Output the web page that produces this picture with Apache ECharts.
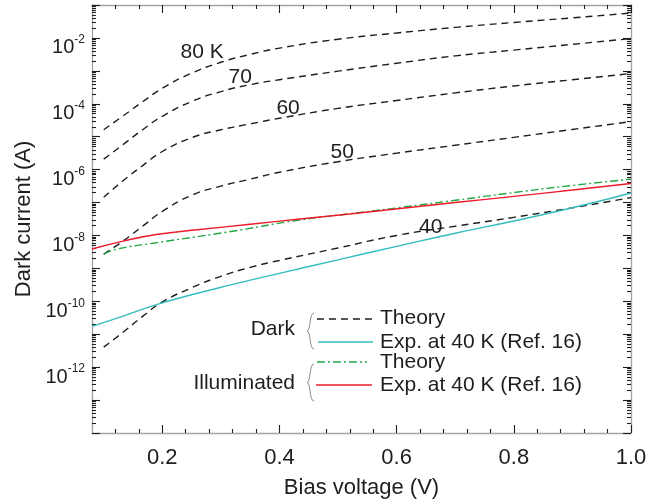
<!DOCTYPE html>
<html>
<head>
<meta charset="utf-8">
<script src="https://cdn.jsdelivr.net/npm/echarts@6/dist/echarts.min.js"></script>
<style>
  html, body { margin: 0; padding: 0; background: #ffffff; }
  #chart { width: 664px; height: 504px; }
</style>
</head>
<body>
<div id="chart"></div>
<script>
// Bias voltage (V) sample points for the theoretical dark-current curves
const xTheory = [0.10, 0.133, 0.167, 0.20, 0.25, 0.30, 0.35, 0.40, 0.50, 0.60, 0.70, 0.80, 0.90, 1.00];

// Theoretical dark current (A) at each temperature
const dark80K = [1.62e-5, 4.27e-5, 1.17e-4, 2.95e-4, 8.51e-4, 1.82e-3, 3.16e-3, 4.90e-3, 9.12e-3, 1.41e-2, 2.09e-2, 2.95e-2, 4.07e-2, 5.68e-2];
const dark70K = [2.09e-6, 5.75e-6, 1.66e-5, 4.17e-5, 1.17e-4, 2.34e-4, 3.80e-4, 5.37e-4, 9.77e-4, 1.70e-3, 2.85e-3, 4.27e-3, 6.38e-3, 9.55e-3];
const dark60K = [1.45e-7, 4.57e-7, 1.35e-6, 3.55e-6, 9.33e-6, 1.62e-5, 2.45e-5, 3.63e-5, 7.24e-5, 1.26e-4, 2.14e-4, 3.47e-4, 5.37e-4, 8.32e-4];
const dark50K = [2.69e-9, 6.76e-9, 1.95e-8, 5.37e-8, 1.66e-7, 3.16e-7, 5.13e-7, 8.32e-7, 1.74e-6, 3.16e-6, 5.50e-6, 9.55e-6, 1.66e-5, 2.88e-5];
const dark40K = [4.07e-12, 1.15e-11, 3.55e-11, 9.55e-11, 2.57e-10, 5.75e-10, 1.07e-9, 1.74e-9, 4.17e-9, 1.00e-8, 1.91e-8, 3.55e-8, 6.92e-8, 1.41e-7];

// Measured dark current at 40 K (Ref. 16)
const xDarkExp = [0.08, 0.133, 0.19, 0.25, 0.315, 0.40, 0.50, 0.60, 0.70, 0.80, 0.90, 1.00];
const darkExp40K = [1.74e-11, 3.55e-11, 7.94e-11, 1.58e-10, 3.09e-10, 7.08e-10, 1.82e-9, 4.68e-9, 1.17e-8, 2.75e-8, 6.92e-8, 1.95e-7];

// Measured current under illumination at 40 K (Ref. 16)
const xIllumExp = [0.08, 0.133, 0.19, 0.264, 0.35, 0.435, 0.52, 0.606, 0.70, 0.812, 0.90, 1.00];
const illumExp40K = [3.89e-9, 6.76e-9, 1.07e-8, 1.51e-8, 2.19e-8, 3.16e-8, 4.47e-8, 6.61e-8, 1.00e-7, 1.62e-7, 2.40e-7, 3.80e-7];

// Theoretical current under illumination
const xIllumTheory = [0.10, 0.121, 0.19, 0.31, 0.435, 0.52, 0.606, 0.70, 0.812, 0.90, 1.00];
const illumTheory = [2.69e-9, 3.80e-9, 6.03e-9, 1.26e-8, 2.95e-8, 4.57e-8, 7.08e-8, 1.17e-7, 2.14e-7, 3.31e-7, 5.13e-7];

// Axis ticks and labels
const xTickLabels = [0.2, 0.4, 0.6, 0.8, 1.0];
const xMinorTicks = [0.12, 0.16, 0.24, 0.28, 0.32, 0.36, 0.44, 0.48, 0.52, 0.56, 0.64, 0.68, 0.72, 0.76, 0.84, 0.88, 0.92, 0.96];
const yTickLabels = [1e-12, 1e-10, 1e-8, 1e-6, 1e-4, 1e-2];
const yDecades = [1e-14, 1e-13, 1e-12, 1e-11, 1e-10, 1e-9, 1e-8, 1e-7, 1e-6, 1e-5, 1e-4, 1e-3, 1e-2, 1e-1];

const yMinorTicks = [];
yDecades.slice(0, -1).forEach(d => { for (let m = 2; m <= 9; m++) yMinorTicks.push(m * d); });

const FONT = 'Liberation Sans, Arial, Helvetica, sans-serif';
const INK = '#1e1e1e';
const FRAME = '#a3a3a3';
const X_MIN = 0.08, X_MAX = 1.0, Y_MIN = 1e-14, Y_MAX = 1e-1;

const pairs = (xs, ys) => xs.map((x, i) => [x, ys[i]]);

function curve(name, xs, ys, color, dash, extra) {
  return Object.assign({
    type: 'line',
    name: name,
    data: pairs(xs, ys),
    xAxisIndex: 0,
    yAxisIndex: 0,
    symbol: 'none',
    smooth: 0.5,
    silent: true,
    animation: false,
    lineStyle: { color: color, width: 1.4, type: dash }
  }, extra || {});
}

// Temperature tag placed beside a curve
function tempLabel(text, x, y, dy) {
  return {
    silent: true,
    symbol: 'rect',
    symbolSize: 1,
    itemStyle: { color: 'rgba(0,0,0,0)' },
    label: {
      show: true, position: 'inside', offset: [0, dy], formatter: '{b}',
      color: INK, fontSize: 21, fontFamily: FONT
    },
    data: [{ name: text, coord: [x, y] }]
  };
}

function xAxisDef(position, ticks, len, labels, line) {
  return {
    type: 'value', min: X_MIN, max: X_MAX, position: position,
    axisLine: { show: line, onZero: false, lineStyle: { color: FRAME, width: 1.3 } },
    axisTick: { show: true, inside: true, length: len, customValues: ticks, lineStyle: { color: INK, width: 1.1 } },
    axisLabel: labels ? {
      show: true, customValues: xTickLabels, margin: 14,
      color: INK, fontSize: 22, fontFamily: FONT,
      formatter: v => v.toFixed(1)
    } : { show: false },
    splitLine: { show: false }
  };
}

function yAxisDef(position, ticks, len, labels, line) {
  return {
    type: 'log', logBase: 10, min: Y_MIN, max: Y_MAX, position: position,
    axisLine: { show: line, onZero: false, lineStyle: { color: FRAME, width: 1.3 } },
    axisTick: { show: true, inside: true, length: len, customValues: ticks, lineStyle: { color: INK, width: 1.1 } },
    axisLabel: labels ? {
      show: true, customValues: yTickLabels, margin: 7,
      padding: [16, 0, 0, 0],
      formatter: v => '{b|10}{s|' + Math.round(Math.log10(v)) + '}',
      rich: {
        b: { fontSize: 20, lineHeight: 24, verticalAlign: 'bottom', color: INK, fontFamily: FONT },
        s: { fontSize: 12, lineHeight: 14, verticalAlign: 'top', color: INK, fontFamily: FONT }
      }
    } : { show: false },
    splitLine: { show: false }
  };
}

const chart = echarts.init(document.getElementById('chart'), null, { renderer: 'canvas' });

const legendText = (text, x, y, align) => ({
  type: 'text', x: x, y: y, silent: true,
  style: { text: text, fill: INK, font: '21px ' + FONT, textAlign: align || 'left', textVerticalAlign: 'middle' }
});
const legendLine = (x1, x2, y, color, dash) => ({
  type: 'line', silent: true,
  shape: { x1: x1, y1: y, x2: x2, y2: y },
  style: { stroke: color, lineWidth: 1.5, lineDash: dash || null }
});
// Curly brace grouping two legend rows, built from two cubic halves
const brace = (x, y1, y2) => {
  const m = (y1 + y2) / 2;
  const half = (ya, yb) => ({
    type: 'bezierCurve', silent: true,
    shape: { x1: x + 5, y1: ya, cpx1: x, cpy1: ya, cpx2: x + 2, cpy2: yb, x2: x - 2, y2: yb },
    style: { stroke: '#8a8a8a', lineWidth: 1, fill: null }
  });
  return { type: 'group', silent: true, children: [half(y1, m), half(y2, m)] };
};

chart.setOption({
  backgroundColor: '#ffffff',
  animation: false,
  grid: { left: 92, right: 33, top: 5, bottom: 61, containLabel: false },
  xAxis: [
    Object.assign(xAxisDef('bottom', xTickLabels, 8, true, true), {
      name: 'Bias voltage (V)', nameLocation: 'middle', nameGap: 44,
      nameTextStyle: { color: INK, fontSize: 22, fontFamily: FONT }
    }),
    xAxisDef('top', xTickLabels, 8, false, true),
    xAxisDef('top', xMinorTicks, 4, false, false),     // lands on the bottom edge
    xAxisDef('bottom', xMinorTicks, 4, false, false)   // lands on the top edge
  ],
  yAxis: [
    Object.assign(yAxisDef('left', yDecades, 8, true, true), {
      name: 'Dark current (A)', nameLocation: 'middle', nameGap: 53,
      nameTextStyle: { color: INK, fontSize: 22, fontFamily: FONT }
    }),
    yAxisDef('right', yDecades, 8, false, true),
    yAxisDef('right', yMinorTicks, 4, false, false),  // lands on the left edge
    yAxisDef('left', yMinorTicks, 4, false, false)    // lands on the right edge
  ],
  series: [
    curve('80 K', xTheory, dark80K, INK, [7, 5], { markPoint: tempLabel('80 K', 0.268, 5.2e-3, 5) }),
    curve('70 K', xTheory, dark70K, INK, [7, 5], { markPoint: tempLabel('70', 0.333, 7.8e-4, 3) }),
    curve('60 K', xTheory, dark60K, INK, [7, 5], { markPoint: tempLabel('60', 0.4147, 9.3e-5, 3) }),
    curve('50 K', xTheory, dark50K, INK, [7, 5], { markPoint: tempLabel('50', 0.507, 5.0e-6, 6) }),
    curve('40 K', xTheory, dark40K, INK, [7, 5], { markPoint: tempLabel('40', 0.658, 2.6e-8, 5) }),
    curve('Dark exp. 40 K', xDarkExp, darkExp40K, '#35bcbc', 'solid'),
    curve('Illuminated theory', xIllumTheory, illumTheory, '#22a845', [8, 3, 2, 3]),
    curve('Illuminated exp. 40 K', xIllumExp, illumExp40K, '#ec1c2a', 'solid')
  ],
  graphic: [
    legendText('Dark', 295, 329, 'right'),
    brace(309, 313, 349),
    legendLine(317, 373, 319, INK, [7, 5]),
    legendText('Theory', 380, 318),
    legendLine(318, 373, 342, '#35bcbc'),
    legendText('Exp. at 40 K (Ref. 16)', 380, 342),
    legendText('Illuminated', 295, 383, 'right'),
    brace(309, 364, 401),
    legendLine(317, 367, 362, '#22a845', [8, 3, 2, 3]),
    legendText('Theory', 380, 362),
    legendLine(316, 372, 385, '#ec1c2a'),
    legendText('Exp. at 40 K (Ref. 16)', 380, 385)
  ]
});
</script>
</body>
</html>
